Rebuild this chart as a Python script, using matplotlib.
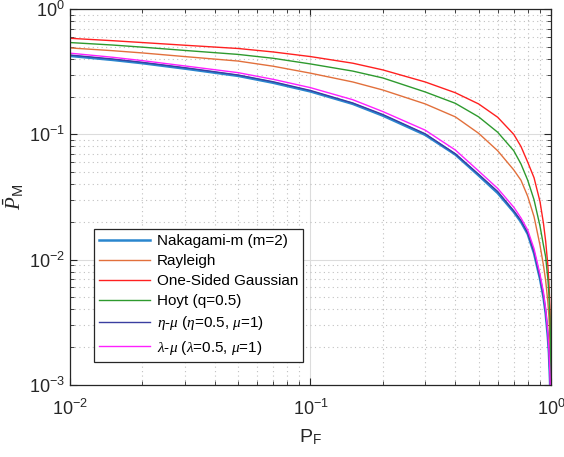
import matplotlib
matplotlib.use("Agg")
import matplotlib.pyplot as plt
from matplotlib.ticker import LogLocator, NullFormatter

plt.rcParams["font.family"] = ["Liberation Sans", "DejaVu Sans"]
plt.rcParams["mathtext.fontset"] = "custom"
plt.rcParams["mathtext.rm"] = "Liberation Sans"
plt.rcParams["mathtext.it"] = "Liberation Serif:italic"

# -------------------- DADOS --------------------
p_f = [0.01, 0.015, 0.02, 0.03, 0.05, 0.07, 0.1, 0.15, 0.2, 0.3, 0.4, 0.5,
       0.6, 0.7, 0.75, 0.8, 0.85, 0.9, 0.93, 0.95, 0.97, 0.98, 0.99, 0.995,
       0.999]

pm_nakagami = [0.423, 0.393, 0.370, 0.335, 0.293, 0.258, 0.220, 0.175, 0.141,
               0.099, 0.069, 0.047, 0.034, 0.024, 0.020, 0.0160, 0.0112,
               0.0070, 0.0050, 0.0037, 0.0024, 0.0018, 0.0011, 0.0007, 0.0003]
pm_rayleigh = [0.490, 0.466, 0.447, 0.418, 0.385, 0.350, 0.308, 0.262, 0.226,
               0.175, 0.138, 0.102, 0.074, 0.052, 0.043, 0.032, 0.022, 0.0130,
               0.0090, 0.0068, 0.0046, 0.0035, 0.0022, 0.0015, 0.0007]
pm_onesided = [0.585, 0.560, 0.541, 0.515, 0.485, 0.455, 0.418, 0.370, 0.327,
               0.262, 0.215, 0.175, 0.137, 0.100, 0.080, 0.060, 0.045, 0.029,
               0.0195, 0.0140, 0.0090, 0.0065, 0.0040, 0.0026, 0.0011]
pm_hoyt = [0.541, 0.517, 0.497, 0.468, 0.435, 0.405, 0.365, 0.320, 0.282,
           0.218, 0.177, 0.138, 0.104, 0.074, 0.058, 0.043, 0.030, 0.0185,
           0.0130, 0.0105, 0.0070, 0.0053, 0.0034, 0.0022, 0.0009]
pm_etamu = [0.430, 0.400, 0.376, 0.341, 0.298, 0.263, 0.224, 0.178, 0.144,
            0.101, 0.070, 0.048, 0.035, 0.0245, 0.0205, 0.0163, 0.0115,
            0.0072, 0.0051, 0.0038, 0.0025, 0.00185, 0.00115, 0.00072, 0.0003]
pm_lambdamu = [0.445, 0.413, 0.388, 0.352, 0.311, 0.275, 0.236, 0.189, 0.152,
               0.108, 0.075, 0.051, 0.037, 0.0262, 0.0215, 0.0172, 0.0122,
               0.0076, 0.0055, 0.0040, 0.0026, 0.0019, 0.0012, 0.0008, 0.0003]

labels = [
    "Nakagami-m (m=2)",
    "Rayleigh",
    "One-Sided Gaussian",
    "Hoyt (q=0.5)",
    r"$\mathit{\eta}$-$\mathit{\mu}$ ($\mathit{\eta}$=0.5, $\mathit{\mu}$=1)",
    r"$\mathit{\lambda}$-$\mathit{\mu}$ ($\mathit{\lambda}$=0.5, $\mathit{\mu}$=1)",
]
cores = ["#2A86CE", "#E2703C", "#FF2020", "#2E9A2E", "#3A3FA0", "#FF20FF"]
larguras = [1.8, 1.0, 1.0, 1.0, 1.0, 1.0]


# -------------------- PLOTAGEM --------------------
fig = plt.figure(figsize=(5.64, 4.57), dpi=100)
ax = fig.add_axes([0.124, 0.158, 0.853, 0.822])

series = [pm_nakagami, pm_rayleigh, pm_onesided, pm_hoyt, pm_etamu, pm_lambdamu]
for ys, lab, c, lw in zip(series, labels, cores, larguras):
    ax.loglog(p_f, ys, color=c, lw=lw, label=lab)

ax.set_xlim(1e-2, 1)
ax.set_ylim(1e-3, 1)

ax.xaxis.set_minor_locator(LogLocator(base=10, subs=range(2, 10), numticks=20))
ax.yaxis.set_minor_locator(LogLocator(base=10, subs=range(2, 10), numticks=20))
ax.xaxis.set_minor_formatter(NullFormatter())
ax.yaxis.set_minor_formatter(NullFormatter())

ax.grid(True, which="major", color="#DCDCDC", lw=0.8, ls="-")
ax.grid(True, which="minor", color="#C0C0C0", lw=0.8, ls=(0, (1, 3)))
ax.set_axisbelow(True)

ax.tick_params(which="both", direction="in", top=True, right=True,
               colors="#262626", labelsize=13)
ax.tick_params(which="major", length=5)
ax.tick_params(which="minor", length=3)
ax.tick_params(axis="x", pad=10)
for s in ax.spines.values():
    s.set_color("#262626")
    s.set_linewidth(0.9)

ax.set_xlabel(r"P$_\mathrm{F}$", fontsize=14, color="#262626", labelpad=6)
ax.set_ylabel(r"$\bar{P}_\mathrm{M}$", fontsize=15, color="#262626", labelpad=2)

leg = ax.legend(loc="lower left", bbox_to_anchor=(0.05, 0.061), borderaxespad=0,
                fontsize=11, handlelength=3.3, handletextpad=0.45,
                borderpad=0.35, labelspacing=0.4,
                fancybox=False, framealpha=1, edgecolor="#262626")
leg.get_frame().set_linewidth(0.9)

fig.savefig("out.png", dpi=100)
